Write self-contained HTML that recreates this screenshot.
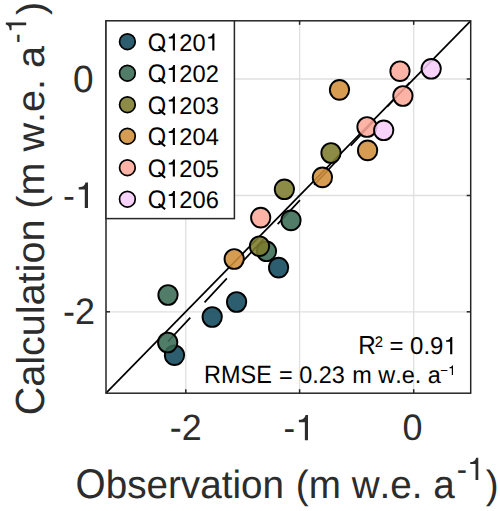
<!DOCTYPE html>
<html><head><meta charset="utf-8"><style>
html,body{margin:0;padding:0;background:#fff;width:500px;height:511px;overflow:hidden}
svg{display:block}
text{font-family:"Liberation Sans",sans-serif;font-kerning:none;text-rendering:geometricPrecision}
</style></head><body>
<svg width="500" height="511" viewBox="0 0 500 511">
<rect x="0" y="0" width="500" height="511" fill="#fff"/>
<line x1="185.8" y1="20.8" x2="185.8" y2="393.2" stroke="#dfdfdf" stroke-width="1.3"/>
<line x1="299.6" y1="20.8" x2="299.6" y2="393.2" stroke="#dfdfdf" stroke-width="1.3"/>
<line x1="413.7" y1="20.8" x2="413.7" y2="393.2" stroke="#dfdfdf" stroke-width="1.3"/>
<line x1="106.0" y1="79.0" x2="470.7" y2="79.0" stroke="#dfdfdf" stroke-width="1.3"/>
<line x1="106.0" y1="195.5" x2="470.7" y2="195.5" stroke="#dfdfdf" stroke-width="1.3"/>
<line x1="106.0" y1="311.8" x2="470.7" y2="311.8" stroke="#dfdfdf" stroke-width="1.3"/>
<line x1="106.0" y1="393.2" x2="470.7" y2="20.8" stroke="#000" stroke-width="1.7"/>
<line x1="168.0" y1="341.5" x2="423.0" y2="68.37" stroke="#000" stroke-width="1.7" stroke-dasharray="32.7 20.86"/>
<line x1="185.8" y1="393.2" x2="185.8" y2="389.2" stroke="#262626" stroke-width="1.5"/>
<line x1="185.8" y1="20.8" x2="185.8" y2="24.8" stroke="#262626" stroke-width="1.5"/>
<line x1="299.6" y1="393.2" x2="299.6" y2="389.2" stroke="#262626" stroke-width="1.5"/>
<line x1="299.6" y1="20.8" x2="299.6" y2="24.8" stroke="#262626" stroke-width="1.5"/>
<line x1="413.7" y1="393.2" x2="413.7" y2="389.2" stroke="#262626" stroke-width="1.5"/>
<line x1="413.7" y1="20.8" x2="413.7" y2="24.8" stroke="#262626" stroke-width="1.5"/>
<line x1="106.0" y1="79.0" x2="110.0" y2="79.0" stroke="#262626" stroke-width="1.5"/>
<line x1="470.7" y1="79.0" x2="466.7" y2="79.0" stroke="#262626" stroke-width="1.5"/>
<line x1="106.0" y1="195.5" x2="110.0" y2="195.5" stroke="#262626" stroke-width="1.5"/>
<line x1="470.7" y1="195.5" x2="466.7" y2="195.5" stroke="#262626" stroke-width="1.5"/>
<line x1="106.0" y1="311.8" x2="110.0" y2="311.8" stroke="#262626" stroke-width="1.5"/>
<line x1="470.7" y1="311.8" x2="466.7" y2="311.8" stroke="#262626" stroke-width="1.5"/>
<ellipse cx="174.5" cy="355.2" rx="9.65" ry="9.85" fill="#0f485c" fill-opacity="0.88" stroke="#000" stroke-width="1.9"/>
<ellipse cx="212.2" cy="317" rx="9.65" ry="9.85" fill="#0f485c" fill-opacity="0.88" stroke="#000" stroke-width="1.9"/>
<ellipse cx="236.6" cy="302" rx="9.65" ry="9.85" fill="#0f485c" fill-opacity="0.88" stroke="#000" stroke-width="1.9"/>
<ellipse cx="278.6" cy="267.6" rx="9.65" ry="9.85" fill="#0f485c" fill-opacity="0.88" stroke="#000" stroke-width="1.9"/>
<ellipse cx="167.7" cy="342.5" rx="9.65" ry="9.85" fill="#386a53" fill-opacity="0.88" stroke="#000" stroke-width="1.9"/>
<ellipse cx="168" cy="295" rx="9.65" ry="9.85" fill="#386a53" fill-opacity="0.88" stroke="#000" stroke-width="1.9"/>
<ellipse cx="266.5" cy="251.3" rx="9.65" ry="9.85" fill="#386a53" fill-opacity="0.88" stroke="#000" stroke-width="1.9"/>
<ellipse cx="291" cy="220.4" rx="9.65" ry="9.85" fill="#386a53" fill-opacity="0.88" stroke="#000" stroke-width="1.9"/>
<ellipse cx="259.5" cy="246.2" rx="9.65" ry="9.85" fill="#7c7c2d" fill-opacity="0.88" stroke="#000" stroke-width="1.9"/>
<ellipse cx="284.4" cy="189.3" rx="9.65" ry="9.85" fill="#7c7c2d" fill-opacity="0.88" stroke="#000" stroke-width="1.9"/>
<ellipse cx="331" cy="153" rx="9.65" ry="9.85" fill="#7c7c2d" fill-opacity="0.88" stroke="#000" stroke-width="1.9"/>
<ellipse cx="234.2" cy="259" rx="9.65" ry="9.85" fill="#d0903a" fill-opacity="0.88" stroke="#000" stroke-width="1.9"/>
<ellipse cx="322.4" cy="177.4" rx="9.65" ry="9.85" fill="#d0903a" fill-opacity="0.88" stroke="#000" stroke-width="1.9"/>
<ellipse cx="367.6" cy="150.4" rx="9.65" ry="9.85" fill="#d0903a" fill-opacity="0.88" stroke="#000" stroke-width="1.9"/>
<ellipse cx="339.5" cy="89.85" rx="9.65" ry="9.85" fill="#d0903a" fill-opacity="0.88" stroke="#000" stroke-width="1.9"/>
<ellipse cx="260.7" cy="217.6" rx="9.65" ry="9.85" fill="#fda99a" fill-opacity="0.88" stroke="#000" stroke-width="1.9"/>
<ellipse cx="367" cy="127" rx="9.65" ry="9.85" fill="#fda99a" fill-opacity="0.88" stroke="#000" stroke-width="1.9"/>
<ellipse cx="402.9" cy="96" rx="9.65" ry="9.85" fill="#fda99a" fill-opacity="0.88" stroke="#000" stroke-width="1.9"/>
<ellipse cx="400" cy="71.2" rx="9.65" ry="9.85" fill="#fda99a" fill-opacity="0.88" stroke="#000" stroke-width="1.9"/>
<ellipse cx="383.7" cy="130.3" rx="9.65" ry="9.85" fill="#f7cdf8" fill-opacity="0.88" stroke="#000" stroke-width="1.9"/>
<ellipse cx="431.2" cy="68.8" rx="9.65" ry="9.85" fill="#f7cdf8" fill-opacity="0.88" stroke="#000" stroke-width="1.9"/>
<rect x="106.0" y="20.8" width="364.70" height="372.40" fill="none" stroke="#262626" stroke-width="1.5"/>
<text transform="matrix(0.9701 0 0 1.0405 358.21 354.20)" font-size="25" fill="#000">R</text>
<text transform="matrix(1.0294 0 0 1.0515 374.85 346.50)" font-size="14.5" fill="#000">2</text>
<text transform="matrix(0.9591 0 0 0.9798 389.43 354.20)" font-size="25" fill="#000">= 0.9</text><path d="M 452.30 354.20 L 452.30 336.98 L 450.62 336.98 C 450.26 338.52 449.54 339.55 448.10 339.92 C 447.38 340.12 446.78 340.19 446.04 340.24 L 446.04 341.83 L 450.14 341.83 L 450.14 354.20 Z" fill="#000"/>
<text transform="matrix(0.9379 0 0 1.0060 204.08 383.10)" font-size="25" fill="#000">RMSE</text>
<text transform="matrix(0.9379 0 0 0.9581 279.06 383.10)" font-size="25" fill="#000">= 0.23</text>
<text transform="matrix(0.9379 0 0 0.9581 352.24 383.10)" font-size="25" fill="#000">m w.e. a</text>
<text transform="matrix(0.9148 0 0 0.9345 440.35 375.00)" font-size="14.5" fill="#000">−</text><path d="M 453.00 375.00 L 453.00 365.47 L 452.07 365.47 C 451.87 366.33 451.47 366.90 450.68 367.10 C 450.28 367.21 449.95 367.25 449.54 367.28 L 449.54 368.16 L 451.81 368.16 L 451.81 375.00 Z" fill="#000"/>
<rect x="106.0" y="20.8" width="128.40" height="197.80" fill="#fff" stroke="#262626" stroke-width="1.5"/>
<circle cx="127.4" cy="41.70" r="7.85" fill="#0f485c" fill-opacity="0.88" stroke="#000" stroke-width="1.7"/>
<text transform="matrix(1.0285 0 0 1.1031 147.78 50.60)" font-size="23" fill="#000">O</text><line x1="158.54" y1="46.37" x2="165.17" y2="51.69" stroke="#000" stroke-width="2.08"/><path d="M 174.93 50.60 L 174.93 33.61 L 173.28 33.61 C 172.92 35.14 172.21 36.15 170.79 36.51 C 170.08 36.71 169.49 36.78 168.76 36.83 L 168.76 38.40 L 172.80 38.40 L 172.80 50.60 Z" fill="#000"/><text transform="matrix(1.0285 0 0 1.0506 179.34 50.60)" font-size="23" fill="#000">20</text><path d="M 214.40 50.60 L 214.40 33.61 L 212.74 33.61 C 212.39 35.14 211.68 36.15 210.26 36.51 C 209.55 36.71 208.96 36.78 208.23 36.83 L 208.23 38.40 L 212.27 38.40 L 212.27 50.60 Z" fill="#000"/>
<circle cx="127.4" cy="73.20" r="7.85" fill="#386a53" fill-opacity="0.88" stroke="#000" stroke-width="1.7"/>
<text transform="matrix(1.0285 0 0 1.1031 147.78 82.10)" font-size="23" fill="#000">O</text><line x1="158.54" y1="77.87" x2="165.17" y2="83.19" stroke="#000" stroke-width="2.08"/><path d="M 174.93 82.10 L 174.93 65.11 L 173.28 65.11 C 172.92 66.64 172.21 67.65 170.79 68.01 C 170.08 68.21 169.49 68.28 168.76 68.33 L 168.76 69.90 L 172.80 69.90 L 172.80 82.10 Z" fill="#000"/><text transform="matrix(1.0285 0 0 1.0506 179.34 82.10)" font-size="23" fill="#000">202</text>
<circle cx="127.4" cy="104.70" r="7.85" fill="#7c7c2d" fill-opacity="0.88" stroke="#000" stroke-width="1.7"/>
<text transform="matrix(1.0285 0 0 1.1031 147.78 113.60)" font-size="23" fill="#000">O</text><line x1="158.54" y1="109.37" x2="165.17" y2="114.69" stroke="#000" stroke-width="2.08"/><path d="M 174.93 113.60 L 174.93 96.61 L 173.28 96.61 C 172.92 98.14 172.21 99.15 170.79 99.51 C 170.08 99.71 169.49 99.78 168.76 99.83 L 168.76 101.40 L 172.80 101.40 L 172.80 113.60 Z" fill="#000"/><text transform="matrix(1.0285 0 0 1.0506 179.34 113.60)" font-size="23" fill="#000">203</text>
<circle cx="127.4" cy="136.20" r="7.85" fill="#d0903a" fill-opacity="0.88" stroke="#000" stroke-width="1.7"/>
<text transform="matrix(1.0285 0 0 1.1031 147.78 145.10)" font-size="23" fill="#000">O</text><line x1="158.54" y1="140.87" x2="165.17" y2="146.19" stroke="#000" stroke-width="2.08"/><path d="M 174.93 145.10 L 174.93 128.11 L 173.28 128.11 C 172.92 129.64 172.21 130.65 170.79 131.01 C 170.08 131.21 169.49 131.28 168.76 131.33 L 168.76 132.90 L 172.80 132.90 L 172.80 145.10 Z" fill="#000"/><text transform="matrix(1.0285 0 0 1.0506 179.34 145.10)" font-size="23" fill="#000">204</text>
<circle cx="127.4" cy="167.70" r="7.85" fill="#fda99a" fill-opacity="0.88" stroke="#000" stroke-width="1.7"/>
<text transform="matrix(1.0285 0 0 1.1031 147.78 176.60)" font-size="23" fill="#000">O</text><line x1="158.54" y1="172.37" x2="165.17" y2="177.69" stroke="#000" stroke-width="2.08"/><path d="M 174.93 176.60 L 174.93 159.61 L 173.28 159.61 C 172.92 161.14 172.21 162.15 170.79 162.51 C 170.08 162.71 169.49 162.78 168.76 162.83 L 168.76 164.40 L 172.80 164.40 L 172.80 176.60 Z" fill="#000"/><text transform="matrix(1.0285 0 0 1.0506 179.34 176.60)" font-size="23" fill="#000">205</text>
<circle cx="127.4" cy="199.20" r="7.85" fill="#f7cdf8" fill-opacity="0.88" stroke="#000" stroke-width="1.7"/>
<text transform="matrix(1.0285 0 0 1.1031 147.78 208.10)" font-size="23" fill="#000">O</text><line x1="158.54" y1="203.87" x2="165.17" y2="209.19" stroke="#000" stroke-width="2.08"/><path d="M 174.93 208.10 L 174.93 191.11 L 173.28 191.11 C 172.92 192.64 172.21 193.65 170.79 194.01 C 170.08 194.21 169.49 194.28 168.76 194.33 L 168.76 195.90 L 172.80 195.90 L 172.80 208.10 Z" fill="#000"/><text transform="matrix(1.0285 0 0 1.0506 179.34 208.10)" font-size="23" fill="#000">206</text>
<text transform="matrix(0.9965 0 0 1.0179 169.81 440.20)" font-size="36" fill="#2c2c2c">-2</text>
<text transform="matrix(0.9701 0 0 0.9910 283.45 440.20)" font-size="36" fill="#2c2c2c">-</text><path d="M 308.00 440.20 L 308.00 415.12 L 305.56 415.12 C 305.03 417.37 303.98 418.87 301.89 419.40 C 300.84 419.69 299.97 419.79 298.88 419.87 L 298.88 422.18 L 304.86 422.18 L 304.86 440.20 Z" fill="#2c2c2c"/>
<text transform="matrix(0.9995 0 0 1.0210 402.39 440.20)" font-size="36" fill="#2c2c2c">0</text>
<text transform="matrix(1.0285 0 0 1.0506 73.05 91.80)" font-size="36" fill="#2c2c2c">0</text>
<text transform="matrix(0.9912 0 0 1.0125 62.91 208.00)" font-size="36" fill="#2c2c2c">-</text><path d="M 88.00 208.00 L 88.00 182.38 L 85.50 182.38 C 84.97 184.67 83.90 186.20 81.76 186.75 C 80.68 187.04 79.79 187.15 78.69 187.22 L 78.69 189.59 L 84.79 189.59 L 84.79 208.00 Z" fill="#2c2c2c"/>
<text transform="matrix(1.0000 0 0 1.0215 63.10 324.00)" font-size="36" fill="#2c2c2c">-2</text>
<text transform="matrix(0.9915 0 0 1.0635 75.57 497.50)" font-size="39" fill="#2c2c2c">O</text><text transform="matrix(0.9915 0 0 1.0128 105.65 497.50)" font-size="39" fill="#2c2c2c">bservation</text>
<text transform="matrix(0.9915 0 0 1.0128 295.80 497.50)" font-size="39" fill="#2c2c2c">(m w.e. a</text>
<text transform="matrix(1.0275 0 0 1.0496 456.63 480.00)" font-size="30" fill="#2c2c2c">-</text><path d="M 478.30 480.00 L 478.30 457.86 L 476.14 457.86 C 475.68 459.85 474.76 461.17 472.91 461.64 C 471.98 461.90 471.21 461.99 470.25 462.05 L 470.25 464.10 L 475.53 464.10 L 475.53 480.00 Z" fill="#2c2c2c"/>
<text transform="matrix(0.9915 0 0 1.0128 485.77 497.50)" font-size="39" fill="#2c2c2c">)</text>
<g transform="translate(44.2,420.0) rotate(-90)"><text transform="matrix(1.0142 0 0 1.0425 4.69 0.00)" font-size="39" fill="#2c2c2c">C</text><text transform="matrix(1.0142 0 0 0.9928 33.26 0.00)" font-size="39" fill="#2c2c2c">alculation (m w.e. a</text><text transform="matrix(0.9870 0 0 0.9662 376.68 -18.00)" font-size="30" fill="#2c2c2c">-</text><path d="M 397.50 -18.00 L 397.50 -38.38 L 395.43 -38.38 C 394.98 -36.55 394.09 -35.33 392.32 -34.90 C 391.43 -34.67 390.69 -34.58 389.77 -34.52 L 389.77 -32.64 L 394.84 -32.64 L 394.84 -18.00 Z" fill="#2c2c2c"/><text transform="matrix(1.0142 0 0 0.9928 405.07 0.00)" font-size="39" fill="#2c2c2c">)</text></g>
</svg></body></html>
